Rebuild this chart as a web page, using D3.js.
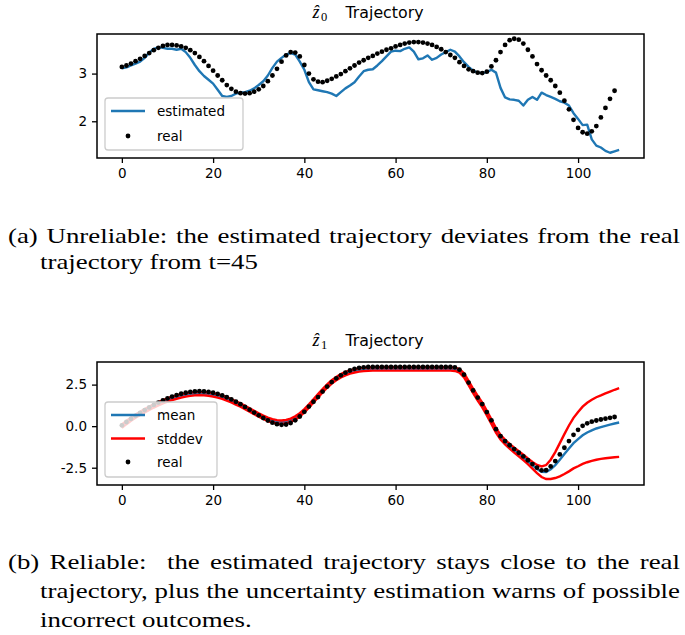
<!DOCTYPE html>
<html>
<head>
<meta charset="utf-8">
<script src="https://cdn.jsdelivr.net/npm/d3@7"></script>
<style>
  body { margin: 0; background: #ffffff; }
  svg { display: block; }
</style>
</head>
<body>
<svg id="fig" width="685" height="635"></svg>
<script>
// ---- z0 trajectory: estimated (t = 0..109) vs real (t = 0..108) ----
const z0Estimated = [
  3.11, 3.13, 3.17, 3.21, 3.25, 3.33, 3.44, 3.52, 3.55, 3.54,
  3.52, 3.52, 3.50, 3.52, 3.45, 3.33, 3.18, 3.05, 2.95, 2.87,
  2.79, 2.66, 2.53, 2.51, 2.53, 2.58, 2.60, 2.61, 2.64, 2.69,
  2.76, 2.84, 2.96, 3.12, 3.25, 3.33, 3.40, 3.43, 3.40, 3.25,
  3.08, 2.82, 2.67, 2.65, 2.63, 2.61, 2.58, 2.53, 2.61, 2.69,
  2.75, 2.82, 2.94, 3.05, 3.08, 3.09, 3.17, 3.26, 3.36, 3.46,
  3.48, 3.47, 3.52, 3.55, 3.46, 3.30, 3.32, 3.38, 3.29, 3.33,
  3.40, 3.45, 3.50, 3.46, 3.36, 3.24, 3.14, 3.06, 3.02, 3.01,
  3.03, 3.08, 3.02, 2.70, 2.50, 2.46, 2.45, 2.43, 2.33, 2.45,
  2.51, 2.45, 2.60, 2.55, 2.51, 2.47, 2.42, 2.39, 2.33, 2.17,
  2.05, 1.92, 1.93, 1.62, 1.49, 1.45, 1.38, 1.34, 1.37, 1.40
];
const z0Real = [
  3.14, 3.17, 3.21, 3.26, 3.31, 3.37, 3.43, 3.49, 3.54, 3.58,
  3.60, 3.60, 3.59, 3.57, 3.54, 3.49, 3.43, 3.35, 3.26, 3.16,
  3.06, 2.96, 2.86, 2.76, 2.68, 2.62, 2.59, 2.58, 2.59, 2.62,
  2.67, 2.74, 2.84, 2.96, 3.10, 3.25, 3.38, 3.45, 3.44, 3.36,
  3.18, 3.00, 2.88, 2.83, 2.82, 2.85, 2.89, 2.94, 2.99, 3.05,
  3.11, 3.17, 3.23, 3.28, 3.33, 3.37, 3.42, 3.46, 3.50, 3.53,
  3.57, 3.60, 3.63, 3.65, 3.66, 3.66, 3.65, 3.63, 3.60, 3.56,
  3.51, 3.45, 3.39, 3.33, 3.24, 3.16, 3.09, 3.05, 3.02, 3.01,
  3.04, 3.15, 3.28, 3.45, 3.60, 3.70, 3.73, 3.71, 3.63, 3.50,
  3.36, 3.20, 3.07, 2.96, 2.86, 2.74, 2.60, 2.43, 2.25, 2.03,
  1.86, 1.77, 1.74, 1.79, 1.90, 2.08, 2.28, 2.47, 2.64
];

// ---- z1 trajectory: predicted mean and stddev (t = 0..109), real (t = 0..108) ----
const z1Mean = [
  0.00, 0.22, 0.42, 0.60, 0.77, 0.93, 1.08, 1.22, 1.35, 1.47,
  1.57, 1.67, 1.75, 1.82, 1.88, 1.92, 1.95, 1.96, 1.95, 1.93,
  1.88, 1.82, 1.74, 1.64, 1.53, 1.40, 1.27, 1.12, 0.97, 0.82,
  0.67, 0.53, 0.41, 0.32, 0.26, 0.24, 0.27, 0.35, 0.49, 0.68,
  0.93, 1.21, 1.52, 1.83, 2.13, 2.41, 2.66, 2.86, 3.03, 3.16,
  3.26, 3.33, 3.38, 3.41, 3.43, 3.44, 3.44, 3.44, 3.44, 3.44,
  3.44, 3.44, 3.44, 3.44, 3.44, 3.44, 3.44, 3.44, 3.44, 3.44,
  3.44, 3.44, 3.44, 3.42, 3.33, 3.06, 2.60, 2.12, 1.68, 1.27,
  0.78, 0.27, -0.25, -0.66, -0.96, -1.21, -1.44, -1.66, -1.88, -2.11,
  -2.35, -2.58, -2.74, -2.76, -2.60, -2.34, -2.02, -1.68, -1.34, -1.02,
  -0.78, -0.55, -0.38, -0.25, -0.14, -0.06, 0.02, 0.09, 0.16, 0.22
];
const z1Std = [
  0.10, 0.10, 0.10, 0.10, 0.10, 0.10, 0.10, 0.10, 0.10, 0.10,
  0.10, 0.10, 0.10, 0.10, 0.10, 0.10, 0.10, 0.10, 0.10, 0.10,
  0.10, 0.10, 0.10, 0.10, 0.10, 0.10, 0.10, 0.10, 0.10, 0.10,
  0.10, 0.10, 0.10, 0.10, 0.10, 0.10, 0.10, 0.10, 0.10, 0.10,
  0.10, 0.10, 0.10, 0.10, 0.10, 0.10, 0.10, 0.10, 0.10, 0.10,
  0.10, 0.10, 0.10, 0.10, 0.10, 0.10, 0.10, 0.10, 0.10, 0.10,
  0.10, 0.10, 0.10, 0.10, 0.10, 0.10, 0.10, 0.10, 0.10, 0.10,
  0.10, 0.10, 0.10, 0.10, 0.11, 0.12, 0.13, 0.13, 0.14, 0.14,
  0.14, 0.14, 0.14, 0.14, 0.14, 0.14, 0.15, 0.15, 0.16, 0.17,
  0.20, 0.25, 0.32, 0.42, 0.58, 0.78, 1.00, 1.20, 1.38, 1.52,
  1.63, 1.72, 1.79, 1.84, 1.88, 1.91, 1.95, 1.99, 2.03, 2.07
];
const z1Real = [
  0.05, 0.25, 0.44, 0.62, 0.80, 0.97, 1.13, 1.28, 1.42, 1.55,
  1.67, 1.78, 1.87, 1.95, 2.01, 2.06, 2.09, 2.10, 2.09, 2.06,
  2.01, 1.94, 1.85, 1.74, 1.61, 1.47, 1.32, 1.16, 0.99, 0.82,
  0.65, 0.49, 0.34, 0.21, 0.12, 0.08, 0.10, 0.19, 0.35, 0.58,
  0.86, 1.18, 1.47, 1.75, 2.08, 2.38, 2.65, 2.88, 3.06, 3.22,
  3.35, 3.45, 3.51, 3.54, 3.56, 3.56, 3.56, 3.56, 3.56, 3.56,
  3.56, 3.56, 3.56, 3.56, 3.56, 3.56, 3.56, 3.56, 3.56, 3.56,
  3.56, 3.56, 3.56, 3.54, 3.40, 3.10, 2.62, 2.15, 1.72, 1.33,
  0.85, 0.35, -0.18, -0.60, -0.90, -1.15, -1.38, -1.60, -1.82, -2.05,
  -2.28, -2.50, -2.66, -2.65, -2.42, -2.10, -1.70, -1.30, -0.90, -0.52,
  -0.22, 0.02, 0.17, 0.27, 0.34, 0.40, 0.45, 0.50, 0.55
];

// ---- axis ticks ----
const xTicks = [0, 20, 40, 60, 80, 100];
const z0YTicks = [2, 3];
const z0YTickLabels = ["2", "3"];
const z1YTicks = [-2.5, 0, 2.5];
const z1YTickLabels = ["-2.5", "0.0", "2.5"];

// ---- captions (last line of each paragraph is left ragged) ----
const captionA = [
  "(a) Unreliable: the estimated trajectory deviates from the real",
  "trajectory from t=45"
];
const captionB = [
  "(b) Reliable:  the estimated trajectory stays close to the real",
  "trajectory, plus the uncertainty estimation warns of possible",
  "incorrect outcomes."
];

const BLUE = "#1f77b4";
const RED = "#ff0000";
const SANS = "'DejaVu Sans', sans-serif";
const SERIF = "'Liberation Serif', 'DejaVu Serif', serif";

const svg = d3.select("#fig");

const left = 97, right = 644;
const x = d3.scaleLinear().domain([-5.45, 114.45]).range([left, right]);

function panel(opts) {
  const { top, bottom, yDomain, yTicks, yLabels, sub } = opts;
  const y = d3.scaleLinear().domain(yDomain).range([bottom, top]);
  const g = svg.append("g");
  const cx = (left + right) / 2;
  const base = top - 16;

  // title: \hat{z}_k Trajectory
  g.append("text").attr("x", cx - 58).attr("y", base)
    .attr("font-family", SERIF).attr("font-style", "italic").attr("font-size", 18)
    .attr("fill", "#000").text("\u1E91");
  g.append("text").attr("x", cx - 49.5).attr("y", base + 3)
    .attr("font-family", SERIF).attr("font-size", 12.5)
    .attr("fill", "#000").text(sub);
  g.append("text").attr("x", cx - 25).attr("y", base)
    .attr("font-family", SANS).attr("font-size", 15.8)
    .attr("fill", "#000").text("Trajectory");

  // x axis
  const xa = g.append("g").attr("transform", `translate(0,${bottom})`)
    .call(d3.axisBottom(x).tickValues(xTicks).tickSize(5).tickPadding(5).tickFormat(d3.format("d")));
  // y axis
  const ya = g.append("g").attr("transform", `translate(${left},0)`)
    .call(d3.axisLeft(y).tickValues(yTicks).tickSize(5).tickPadding(5)
      .tickFormat((d, i) => yLabels[i]));
  [xa, ya].forEach(a => {
    a.select(".domain").remove();
    a.selectAll(".tick line").attr("stroke", "#000").attr("stroke-width", 1.3);
    a.selectAll(".tick text").attr("fill", "#000")
      .attr("font-family", SANS).attr("font-size", 13.5);
  });

  return { g, y, drawFrame: () =>
    g.append("rect").attr("x", left).attr("y", top)
      .attr("width", right - left).attr("height", bottom - top)
      .attr("fill", "none").attr("stroke", "#000").attr("stroke-width", 1.5)
  };
}

function legend(g, x0, y0, w, h, entries) {
  const lg = g.append("g");
  lg.append("rect").attr("x", x0).attr("y", y0).attr("width", w).attr("height", h)
    .attr("rx", 3).attr("fill", "#ffffff").attr("fill-opacity", 0.8)
    .attr("stroke", "#cccccc").attr("stroke-width", 1.3);
  entries.forEach(e => {
    if (e.type === "line") {
      lg.append("line").attr("x1", x0 + 6).attr("x2", x0 + 40)
        .attr("y1", e.y).attr("y2", e.y)
        .attr("stroke", e.color).attr("stroke-width", 2.5);
    } else {
      lg.append("circle").attr("cx", x0 + 23).attr("cy", e.y).attr("r", 2.4).attr("fill", "#000");
    }
    lg.append("text").attr("x", x0 + 52).attr("y", e.y + 5)
      .attr("font-family", SANS).attr("font-size", 13.5).attr("fill", "#000").text(e.label);
  });
}

// ---------- panel (a) ----------
const pa = panel({ top: 34, bottom: 158, yDomain: [1.23, 3.83],
  yTicks: z0YTicks, yLabels: z0YTickLabels, sub: "0" });
pa.g.append("path")
  .datum(z0Estimated)
  .attr("d", d3.line().x((d, i) => x(i)).y(d => pa.y(d)))
  .attr("fill", "none").attr("stroke", BLUE).attr("stroke-width", 2.4)
  .attr("stroke-linejoin", "round");
pa.g.selectAll("circle.real").data(z0Real).join("circle")
  .attr("class", "real").attr("cx", (d, i) => x(i)).attr("cy", d => pa.y(d))
  .attr("r", 2.4).attr("fill", "#000");
pa.drawFrame();
legend(pa.g, 105, 98, 138, 52, [
  { type: "line", color: BLUE, label: "estimated", y: 111 },
  { type: "dot", label: "real", y: 136 }
]);

// ---------- panel (b) ----------
const pb = panel({ top: 362, bottom: 485, yDomain: [-3.54, 3.86],
  yTicks: z1YTicks, yLabels: z1YTickLabels, sub: "1" });
const lineB = acc => d3.line().x((d, i) => x(i)).y((d, i) => pb.y(acc(d, i)));
pb.g.append("path").datum(z1Mean)
  .attr("d", lineB(d => d))
  .attr("fill", "none").attr("stroke", BLUE).attr("stroke-width", 2.4);
pb.g.append("path").datum(z1Mean)
  .attr("d", lineB((d, i) => d + z1Std[i]))
  .attr("fill", "none").attr("stroke", RED).attr("stroke-width", 2.4);
pb.g.append("path").datum(z1Mean)
  .attr("d", lineB((d, i) => d - z1Std[i]))
  .attr("fill", "none").attr("stroke", RED).attr("stroke-width", 2.4);
pb.g.selectAll("circle.real").data(z1Real).join("circle")
  .attr("class", "real").attr("cx", (d, i) => x(i)).attr("cy", d => pb.y(d))
  .attr("r", 2.4).attr("fill", "#000");
pb.drawFrame();
legend(pb.g, 105, 402, 112, 75, [
  { type: "line", color: BLUE, label: "mean", y: 415 },
  { type: "line", color: RED, label: "stddev", y: 438.5 },
  { type: "dot", label: "real", y: 462 }
]);

// ---------- captions ----------
// Roman text set at 21.5px, widened horizontally so that the ragged line
// "trajectory from t=45" is 218px wide; full lines are justified via word spacing.
const CAP_SIZE = 21.5;
const probe = svg.append("text").attr("font-family", SERIF).attr("font-size", CAP_SIZE)
  .text(captionA[1]);
const capScale = 218 / probe.node().getComputedTextLength();
probe.remove();

function caption(lines, baselines, spans) {
  lines.forEach((s, i) => {
    const [x0, x1] = spans[i];
    const t = svg.append("text")
      .attr("transform", `translate(${x0},${baselines[i]}) scale(${capScale},1)`)
      .attr("font-family", SERIF).attr("font-size", CAP_SIZE).attr("fill", "#000")
      .style("white-space", "pre")
      .text(s);
    if (x1 !== null) {
      const natural = t.node().getComputedTextLength();
      const gaps = (s.match(/ /g) || []).length;
      if (gaps > 0) t.attr("word-spacing", ((x1 - x0) / capScale - natural) / gaps);
    }
  });
}
caption(captionA, [243, 269], [[8, 680], [40, null]]);
caption(captionB, [569, 598, 627], [[8, 680], [40, 680], [40, null]]);
</script>
</body>
</html>
